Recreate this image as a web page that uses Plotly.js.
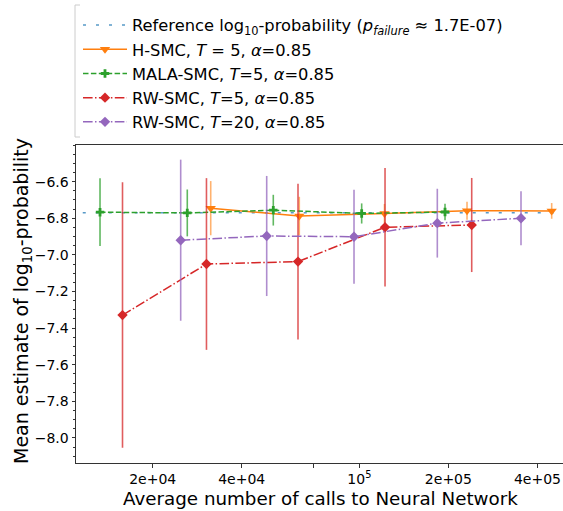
<!DOCTYPE html>
<html>
<head>
<meta charset="utf-8">
<script src="https://cdn.plot.ly/plotly-3.0.1.min.js"></script>
<style>html,body{margin:0;padding:0;background:#fff;overflow:hidden;}#wrap{width:563px;height:511px;overflow:hidden;}#chart{width:580px;height:511px;}</style>
</head>
<body>
<div id="wrap"><div id="chart"></div></div>
<script>
// ---- data ----
const refX = [11600, 480000];
const refY = [-6.77, -6.77];

const hsmcX = [31420, 62630, 121600, 231200, 447000];
const hsmcY = [-6.745, -6.788, -6.774, -6.759, -6.760];
const hsmcErr = [0.148, 0.105, 0.052, 0.049, 0.043];

const malaX = [13270, 26180, 51150, 101800, 194800];
const malaY = [-6.767, -6.771, -6.756, -6.774, -6.766];
const malaErr = [0.185, 0.128, 0.084, 0.055, 0.045];

const rw5X = [15810, 30400, 62000, 122100, 239800];
const rw5Y = [-7.329, -7.050, -7.037, -6.849, -6.837];
const rw5Err = [0.725, 0.469, 0.426, 0.324, 0.257];

const rw20X = [24870, 48590, 95900, 183450, 352000];
const rw20Y = [-6.920, -6.897, -6.901, -6.827, -6.800];
const rw20Err = [0.440, 0.328, 0.257, 0.188, 0.148];

const xTickVals = [20000, 40000, 70000, 100000, 200000, 400000];
const xTickText = ["2e+04", "4e+04", "", "10<sup>5</sup>", "2e+05", "4e+05"];
const yTickVals = [-8.0, -7.8, -7.6, -7.4, -7.2, -7.0, -6.8, -6.6];
const yTickText = ["\u22128.0", "\u22127.8", "\u22127.6", "\u22127.4", "\u22127.2", "\u22127.0", "\u22126.8", "\u22126.6"];

const xTitle = "Average number of calls to Neural Network";
const yTitle = "Mean estimate of log<sub>10</sub>-probability";

const names = [
  "Reference log<sub>10</sub>-probability (<i>p</i><sub><i>failure</i></sub> \u2248 1.7E-07)",
  "H-SMC, <i>T</i> = 5, <i>\u03b1</i>=0.85",
  "MALA-SMC, <i>T</i>=5, <i>\u03b1</i>=0.85",
  "RW-SMC, <i>T</i>=5, <i>\u03b1</i>=0.85",
  "RW-SMC, <i>T</i>=20, <i>\u03b1</i>=0.85"
];

const FONT = "DejaVu Sans, Verdana, sans-serif";

function series(x, y, err, name, grp, color, errColor, dash, symbol, size) {
  return {
    x: x, y: y, name: name, legendgroup: grp, type: 'scatter', mode: 'lines+markers',
    line: {color: color, width: 1.5, dash: dash},
    marker: {color: color, symbol: symbol, size: size, line: {width: 0}},
    error_y: {type: 'data', array: err, visible: true, color: errColor, thickness: 1.6, width: 0}
  };
}

const traces = [
  {x: refX, y: refY, name: names[0], legendgroup: 'g0', type: 'scatter', mode: 'lines',
   line: {color: 'rgba(31,119,180,0.75)', width: 1.5, dash: '3px,10px'}},
  series(hsmcX, hsmcY, hsmcErr, names[1], 'g1', '#ff7f0e', 'rgba(255,127,14,0.6)', 'solid', 'triangle-down', 9),
  series(malaX, malaY, malaErr, names[2], 'g2', '#2ca02c', 'rgba(44,160,44,0.75)', '5.5px,2.4px', 'cross', 7),
  series(rw5X, rw5Y, rw5Err, names[3], 'g3', '#d62728', 'rgba(214,39,40,0.75)', '9.6px,2.4px,1.5px,2.4px', 'diamond', 8),
  series(rw20X, rw20Y, rw20Err, names[4], 'g4', '#9467bd', 'rgba(148,103,189,0.75)', '9.6px,2.4px,1.5px,2.4px', 'diamond', 8)
];

const W = 580, H = 511;
const L = 76, T = 145, B = 48;
const plotW = W - L, plotH = H - T - B;
function px(xp) { return (xp - L) / plotW; }
function py(yp) { return (H - B - yp) / plotH; }
// log10 per pixel from the reference: 2e4 at x=152.7, 295.7 px per decade
const xLo = Math.log10(20000) - (152.7 - L) / 295.7;
const xHi = Math.log10(20000) + (W - 152.7) / 295.7;

const layout = {
  width: W, height: H,
  margin: {l: L, r: 0, t: T, b: B, pad: 0},
  paper_bgcolor: '#fff', plot_bgcolor: '#fff',
  font: {family: FONT, color: '#000', size: 14},
  showlegend: true,
  legend: {
    x: px(78), y: py(8), xanchor: 'left', yanchor: 'top',
    bgcolor: 'rgba(255,255,255,0)', borderwidth: 0,
    font: {family: FONT, size: 16.3, color: '#000'},
    traceorder: 'grouped', tracegroupgap: 0,
    itemwidth: 44
  },
  xaxis: {
    type: 'log',
    range: [xLo, xHi],
    tickvals: xTickVals, ticktext: xTickText,
    ticks: 'outside', ticklen: 3.5, tickwidth: 1, tickcolor: '#333',
    showline: true, linecolor: '#333', linewidth: 1, mirror: true,
    showgrid: false, zeroline: false,
    tickfont: {family: FONT, size: 14, color: '#000'},
    automargin: false
  },
  yaxis: {
    range: [-8.137, -6.40],
    tickvals: yTickVals, ticktext: yTickText,
    ticks: 'outside', ticklen: 3.5, tickwidth: 1, tickcolor: '#333',
    minor: {dtick: 0.05, tick0: -8.0, ticks: 'outside', ticklen: 2, tickcolor: '#333', showgrid: false},
    showline: true, linecolor: '#333', linewidth: 1, mirror: false,
    showgrid: false, zeroline: false,
    tickfont: {family: FONT, size: 14, color: '#000'},
    automargin: false
  },
  annotations: [
    {text: xTitle, xref: 'paper', yref: 'paper', x: px(320.5), y: py(498), xanchor: 'center', yanchor: 'middle',
     showarrow: false, font: {family: FONT, size: 18.3, color: '#000'}},
    {text: yTitle, xref: 'paper', yref: 'paper', x: px(22), y: py(301), xanchor: 'center', yanchor: 'middle',
     textangle: -90, showarrow: false, font: {family: FONT, size: 19, color: '#000'}}
  ],
  shapes: [
    {type: 'path', xref: 'paper', yref: 'paper',
     path: 'M ' + px(80) + ' ' + py(5) + ' L ' + px(75) + ' ' + py(5) + ' L ' + px(75) + ' ' + py(137) + ' L ' + px(80) + ' ' + py(137),
     line: {color: '#cccccc', width: 1}}
  ]
};

Plotly.newPlot('chart', traces, layout, {displayModeBar: false, staticPlot: true});
</script>
</body>
</html>
